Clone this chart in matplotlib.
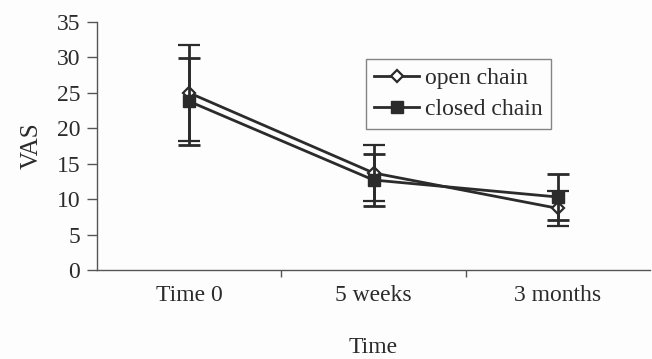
import matplotlib
matplotlib.use("Agg")
import matplotlib.pyplot as plt
from matplotlib.lines import Line2D
from matplotlib.ticker import FixedLocator, NullFormatter

# VAS scores by time point, mean and SD
categories = ["Time 0", "5 weeks", "3 months"]
open_mean = [25.0, 13.7, 8.7]
open_sd = [6.8, 3.9, 2.5]
closed_mean = [23.8, 12.7, 10.3]
closed_sd = [6.1, 3.7, 3.2]
y_ticks = [0, 5, 10, 15, 20, 25, 30, 35]

ink = "#2b2b2b"
plt.rcParams["font.family"] = ["Liberation Serif", "DejaVu Serif"]
plt.rcParams["text.color"] = ink

fig = plt.figure(figsize=(6.52, 3.59), dpi=100, facecolor="#fdfdfd")
ax = fig.add_axes([97 / 652, 1 - 270 / 359, 553 / 652, 248 / 359])
ax.set_facecolor("#fdfdfd")

open_style = dict(marker="D", markersize=6.5, markerfacecolor="white",
                  markeredgecolor=ink, markeredgewidth=1.6)
closed_style = dict(marker="s", markersize=8, markerfacecolor=ink, markeredgecolor=ink)

x = list(range(len(categories)))
ax.errorbar(x, open_mean, yerr=open_sd, color=ink, lw=2.0, capsize=8, capthick=2.0,
            zorder=3, **open_style)
ax.errorbar(x, closed_mean, yerr=closed_sd, color=ink, lw=2.0, capsize=8, capthick=2.0,
            zorder=4, **closed_style)

ax.set_xlim(-0.5, 2.5)
ax.set_ylim(0, 35)
ax.set_yticks(y_ticks)
ax.set_xticks(x)
ax.set_xticklabels(categories)
ax.xaxis.set_minor_locator(FixedLocator([0.5, 1.5]))
ax.xaxis.set_minor_formatter(NullFormatter())

for side in ("top", "right"):
    ax.spines[side].set_visible(False)
for side in ("left", "bottom"):
    ax.spines[side].set_color("#555555")
    ax.spines[side].set_linewidth(1.0)

ax.tick_params(axis="y", direction="out", length=7, width=1, color="#555555",
               labelsize=17, labelcolor=ink, pad=5)
ax.tick_params(axis="x", which="major", length=0, labelsize=17, labelcolor=ink, pad=11)
ax.tick_params(axis="x", which="minor", direction="out", length=5, width=1, color="#555555")

ax.set_ylabel("VAS", fontsize=18, color=ink, labelpad=10)
ax.set_xlabel("Time", fontsize=17, color=ink, labelpad=22)

handles = [Line2D([], [], color=ink, lw=2.0, **open_style),
           Line2D([], [], color=ink, lw=2.0, **closed_style)]
leg = ax.legend(handles, ["open chain", "closed chain"], loc="upper left",
                bbox_to_anchor=((366 - 97) / 553, (270 - 59) / 248),
                fontsize=17, frameon=True, fancybox=False, edgecolor="#666666",
                handlelength=1.9, handletextpad=0.25, borderpad=0.35, labelspacing=0.42,
                borderaxespad=0)
leg.get_frame().set_linewidth(1.0)
leg.get_frame().set_facecolor("#fdfdfd")

fig.savefig("out.png", dpi=100, facecolor=fig.get_facecolor())
